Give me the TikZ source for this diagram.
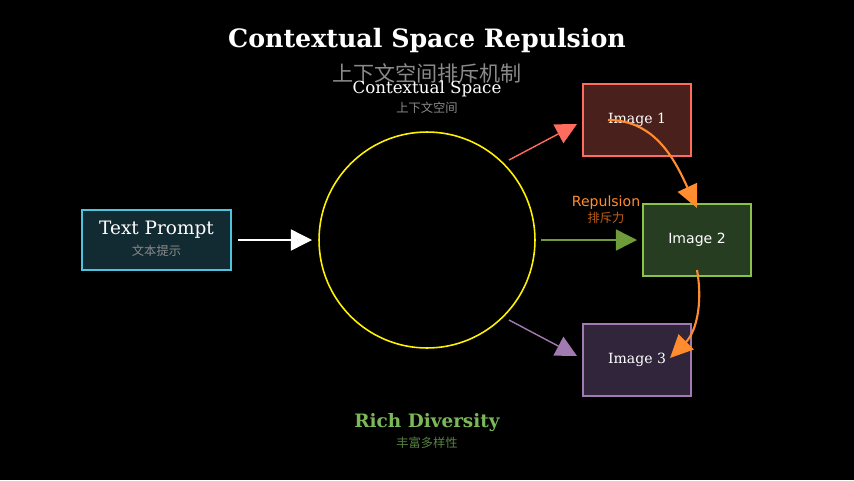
\documentclass[tikz,border=0pt]{standalone}
\usepackage{fontspec}
\setmainfont{DejaVu Serif}
\setsansfont{DejaVu Sans}
\newfontfamily\cjk{Noto Sans CJK SC}
\usepackage{tikz}
\usetikzlibrary{backgrounds,arrows.meta}
\pgfdeclarelayer{bglayer}
\pgfdeclarelayer{edgelayer}
\pgfdeclarelayer{nodelayer}
\pgfsetlayers{bglayer,edgelayer,nodelayer,main}
\definecolor{promptfill}{HTML}{122A31}
\definecolor{promptdraw}{HTML}{4FC3DC}
\definecolor{redfill}{HTML}{4A201C}
\definecolor{reddraw}{HTML}{FF6B5E}
\definecolor{greenfill}{HTML}{273D22}
\definecolor{greendraw}{HTML}{8BC34A}
\definecolor{purplefill}{HTML}{30253A}
\definecolor{purpledraw}{HTML}{A07AB0}
\definecolor{repulse}{HTML}{FF8C2E}
\definecolor{darkrepulse}{HTML}{C0601A}
\definecolor{divgreen}{HTML}{7CB85A}
\definecolor{subgray}{HTML}{8A8A8A}
\tikzstyle{none}=[inner sep=0pt]
\tikzstyle{prompt}=[rectangle,fill=promptfill,draw=promptdraw,line width=1.1,minimum width=2.98cm,minimum height=1.2cm]
\tikzstyle{image}=[rectangle,line width=1.1,minimum width=2.16cm,minimum height=1.44cm,text=white,font=\fontsize{8}{9}\selectfont]
\tikzstyle{inarrow}=[-{Triangle[length=12pt,width=12pt]},line width=0.8]
\tikzstyle{repulsearrow}=[-{Triangle[length=13pt,width=12pt]},draw=repulse,line width=1.2]
\tikzstyle{sub}=[inner sep=0pt,text=subgray,font=\cjk\scriptsize]
\begin{document}
\begin{tikzpicture}[x=0.02cm,y=-0.02cm]
	\begin{pgfonlayer}{bglayer}
		\fill[black] (0,0) rectangle (854,480);
	\end{pgfonlayer}
	\begin{pgfonlayer}{nodelayer}
		\node [style=none,text=white,font=\bfseries\Large] (title) at (427,41) {Contextual Space Repulsion};
		\node [style=sub,font=\cjk\large] (subtitle) at (427,73) {上下文空间排斥机制};
		\node [style=none,text=white,font=\fontsize{9.5}{11}\selectfont] (space) at (427,89) {Contextual Space};
		\node [style=sub,font=\cjk\fontsize{7}{8}\selectfont] (spacecn) at (427,108) {上下文空间};

		\node [circle,draw=yellow,fill=black,line width=0.9,minimum size=4.32cm] (ctx) at (427,240) {};

		\node [style=prompt] (prompt) at (156.5,240) {};
		\node [style=none,text=white,font=\fontsize{10.5}{12}\selectfont] at (156.5,230) {Text Prompt};
		\node [style=sub] at (156.5,251) {文本提示};

		\node [style=image,fill=redfill,draw=reddraw] (img1) at (637,120) {Image 1};
		\node [style=image,fill=greenfill,draw=greendraw,font=\sffamily\fontsize{8}{9}\selectfont] (img2) at (697,240) {Image 2};
		\node [style=image,fill=purplefill,draw=purpledraw] (img3) at (637,360) {Image 3};

		\node [style=none] (in1) at (238,240) {};
		\node [style=none] (in2) at (312,240) {};
		\node [style=none] (o1) at (509,160) {};
		\node [style=none] (o2) at (541,240) {};
		\node [style=none] (o3) at (509,320) {};
		\node [style=none] (t1) at (577,124) {};
		\node [style=none] (t2) at (637,240) {};
		\node [style=none] (t3) at (577,356) {};
		\node [style=none] (r1) at (608,120) {};
		\node [style=none] (r2) at (697,208) {};
		\node [style=none] (r3) at (697,270) {};
		\node [style=none] (r4) at (670,358) {};

		\node [style=none,text=repulse,font=\sffamily\fontsize{8}{9}\selectfont] (rep) at (606,203) {Repulsion};
		\node [style=none,text=darkrepulse,font=\cjk\fontsize{7}{8}\selectfont] (repcn) at (606,218) {排斥力};

		\node [style=none,text=divgreen,font=\bfseries\fontsize{10.5}{12}\selectfont] (div) at (427,423) {Rich Diversity};
		\node [style=sub,text=divgreen!70!black] (divcn) at (427,443) {丰富多样性};
	\end{pgfonlayer}
	\begin{pgfonlayer}{edgelayer}
		\draw [style=inarrow,draw=white] (in1.center) to (in2.center);
		\draw [style=inarrow,draw=reddraw] (o1.center) to (t1.center);
		\draw [style=inarrow,draw=greendraw!80!black] (o2.center) to (t2.center);
		\draw [style=inarrow,draw=purpledraw] (o3.center) to (t3.center);
	\end{pgfonlayer}
	\draw [style=repulsearrow] (r1.center) to[out=0,in=115] (r2.center);
	\draw [style=repulsearrow] (r3.center) to[out=-80,in=45] (r4.center);
\end{tikzpicture}
\end{document}
